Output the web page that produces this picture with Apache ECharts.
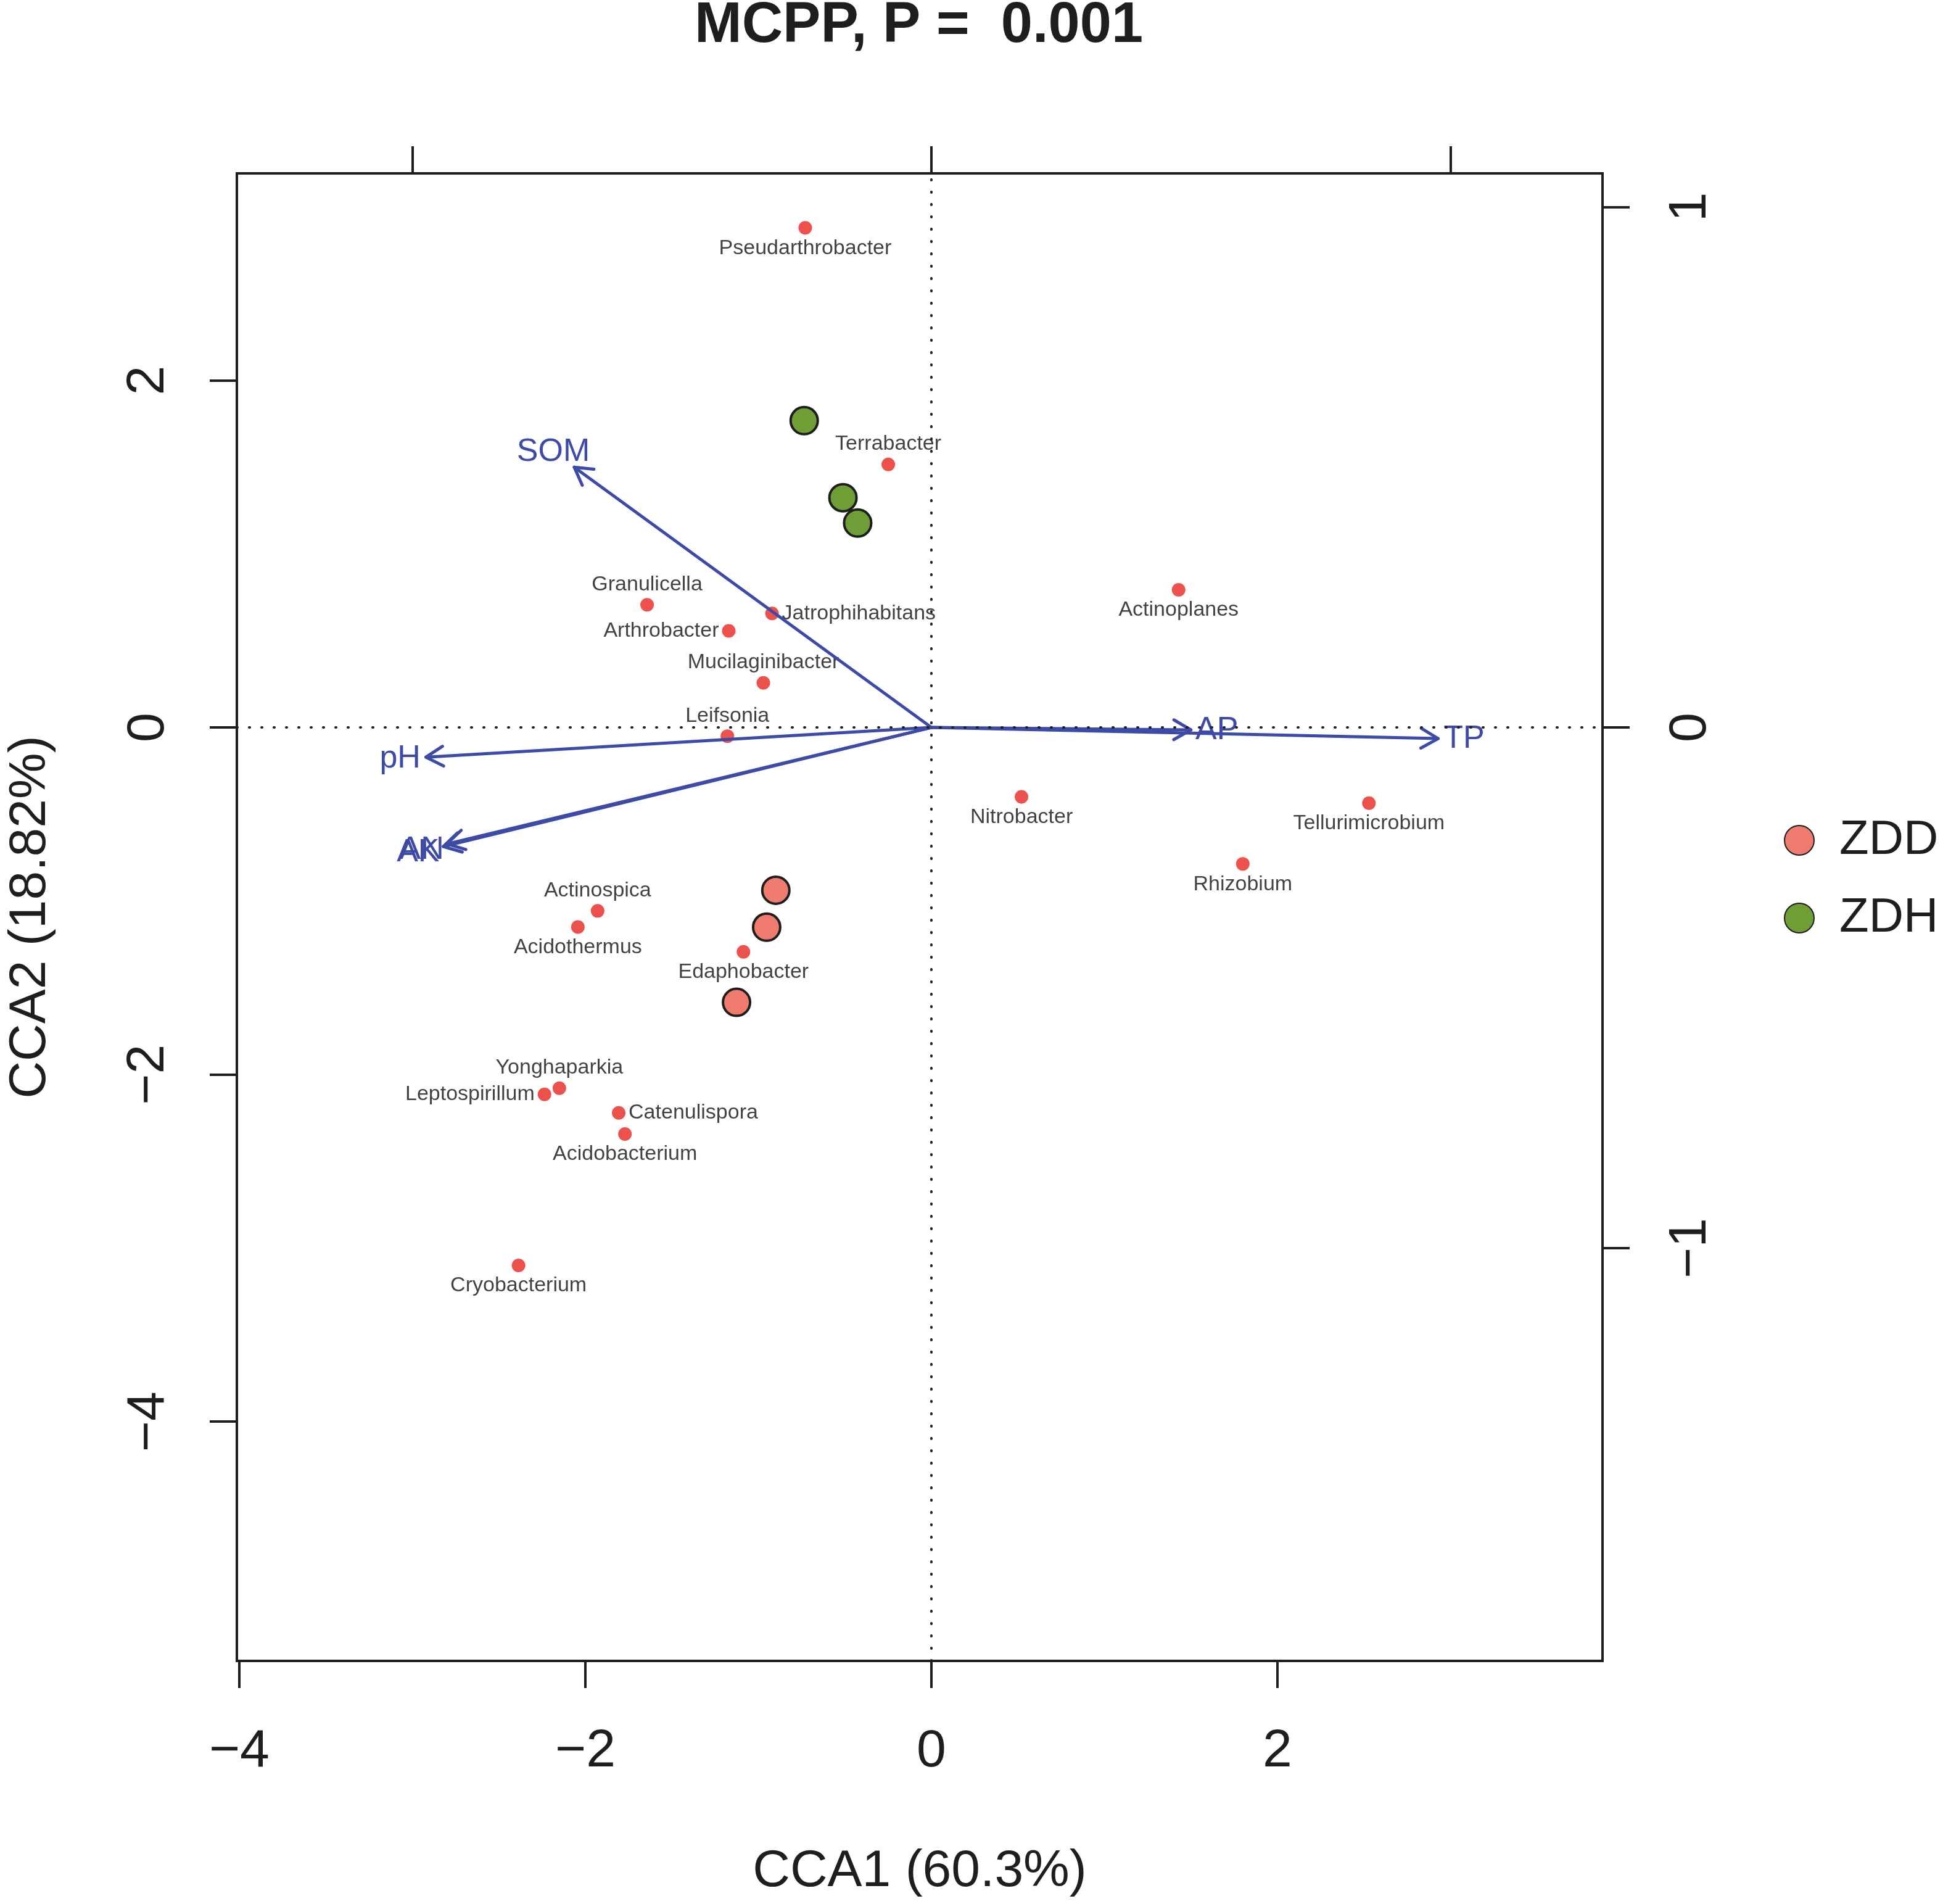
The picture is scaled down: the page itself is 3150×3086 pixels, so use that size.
<!DOCTYPE html>
<html>
<head>
<meta charset="utf-8">
<script src="https://cdn.jsdelivr.net/npm/echarts@6/dist/echarts.min.js"></script>
<style>
  html, body { margin: 0; padding: 0; background: #fff; }
  #chart { width: 3150px; height: 3086px; }
</style>
</head>
<body>
<div id="chart"></div>
<script>
// species scores (CCA1, CCA2)
var speciesNames = ['Pseudarthrobacter', 'Terrabacter', 'Granulicella', 'Arthrobacter', 'Jatrophihabitans',
  'Mucilaginibacter', 'Leifsonia', 'Actinoplanes', 'Nitrobacter', 'Tellurimicrobium', 'Rhizobium',
  'Actinospica', 'Acidothermus', 'Edaphobacter', 'Yonghaparkia', 'Leptospirillum', 'Catenulispora',
  'Acidobacterium', 'Cryobacterium'];
var speciesX = [-0.729, -0.249, -1.643, -1.171, -0.921, -0.971, -1.179, 1.429, 0.521, 2.529, 1.800,
  -1.929, -2.043, -1.086, -2.150, -2.236, -1.807, -1.771, -2.386];
var speciesY = [2.879, 1.516, 0.707, 0.557, 0.657, 0.257, -0.050, 0.793, -0.400, -0.436, -0.786,
  -1.057, -1.150, -1.293, -2.079, -2.114, -2.221, -2.343, -3.100];

// site scores
var zddX = [-0.899, -0.952, -1.126];
var zddY = [-0.938, -1.151, -1.584];
var zdhX = [-0.735, -0.511, -0.426];
var zdhY = [1.768, 1.324, 1.178];

// environmental arrows
var envNames = ['SOM', 'pH', 'AK', 'AN', 'AP', 'TP'];
var envX = [-2.064, -2.921, -2.821, -2.800, 1.500, 2.929];
var envY = [1.500, -0.171, -0.686, -0.671, -0.014, -0.064];

// axis ticks
var xTicks = [-4, -2, 0, 2];
var yTicks = [-4, -2, 0, 2];
var secTicks = [-1, 0, 1];

// where each species label sits relative to its dot
var labelSide = {
  Pseudarthrobacter: 'bottom', Terrabacter: 'top', Granulicella: 'top', Arthrobacter: 'left',
  Jatrophihabitans: 'right', Mucilaginibacter: 'top', Leifsonia: 'top', Actinoplanes: 'bottom',
  Nitrobacter: 'bottom', Tellurimicrobium: 'bottom', Rhizobium: 'bottom', Actinospica: 'top',
  Acidothermus: 'bottom', Edaphobacter: 'bottom', Yonghaparkia: 'top', Leptospirillum: 'left',
  Catenulispora: 'right', Acidobacterium: 'bottom', Cryobacterium: 'bottom'
};

var xMin = -4.014, xMax = 3.879, yMin = -5.379, yMax = 3.193;
var FONT = "'Liberation Sans', Arial, sans-serif";
var NARROW = "'Liberation Sans Narrow', 'Liberation Sans', Arial, sans-serif";
var BLUE = '#3E4BA6';
var INK = '#1e1e1e';

function minus(v) { return String(v).replace('-', '\u2212'); }

function tickStyle() {
  return { show: true, inside: false, length: 44, lineStyle: { color: INK, width: 4 } };
}

var chart = echarts.init(document.getElementById('chart'));

var speciesData = speciesNames.map(function (n, i) {
  return { name: n, value: [speciesX[i], speciesY[i]], label: { position: labelSide[n] } };
});

var envData = envNames.map(function (n, i) { return [envX[i], envY[i], n]; });

function renderArrow(params, api) {
  var p0 = api.coord([0, 0]);
  var p1 = api.coord([api.value(0), api.value(1)]);
  var dx = p1[0] - p0[0], dy = p1[1] - p0[1];
  var len = Math.sqrt(dx * dx + dy * dy);
  var ux = dx / len, uy = dy / len;
  var head = 32, ang = Math.PI / 6;
  var a = Math.atan2(dy, dx);
  var h1 = [p1[0] - head * Math.cos(a - ang), p1[1] - head * Math.sin(a - ang)];
  var h2 = [p1[0] - head * Math.cos(a + ang), p1[1] - head * Math.sin(a + ang)];
  var ls = { stroke: BLUE, lineWidth: 5, fill: null, lineCap: 'round', lineJoin: 'round' };
  return {
    type: 'group',
    children: [
      { type: 'line', shape: { x1: p0[0], y1: p0[1], x2: p1[0], y2: p1[1] }, style: ls },
      { type: 'polyline', shape: { points: [h1, p1, h2] }, style: ls },
      {
        type: 'text',
        x: p1[0] + 42 * ux, y: p1[1] + 42 * uy,
        style: {
          text: api.value(2), fill: BLUE, font: '52px ' + FONT,
          align: 'center', verticalAlign: 'middle'
        }
      }
    ]
  };
}

var option = {
  backgroundColor: '#ffffff',
  animation: false,
  title: {
    text: 'MCPP, P =  0.001',
    left: 1121, top: -8,
    textStyle: { fontFamily: FONT, fontSize: 92, fontWeight: 'bold', color: INK }
  },
  legend: {
    data: ['ZDD', 'ZDH'],
    orient: 'vertical',
    left: 2887, top: 1318,
    icon: 'circle',
    itemWidth: 48, itemHeight: 48, itemGap: 48,
    textStyle: { fontFamily: FONT, fontSize: 78, color: INK, padding: [0, 0, 0, 36] }
  },
  grid: {
    left: 378, right: 552, top: 281, bottom: 394,
    show: true, borderColor: INK, borderWidth: 4, backgroundColor: 'transparent'
  },
  xAxis: [
    {
      type: 'value', position: 'bottom', min: xMin, max: xMax,
      axisLine: { show: false, onZero: false }, splitLine: { show: false },
      axisTick: Object.assign(tickStyle(), { customValues: xTicks }),
      axisLabel: { customValues: xTicks, formatter: minus, fontFamily: NARROW, fontSize: 86, color: INK, margin: 104 },
      name: 'CCA1 (60.3%)', nameLocation: 'middle', nameGap: 300,
      nameTextStyle: { fontFamily: FONT, fontSize: 84, color: INK }
    },
    {
      type: 'value', position: 'top', min: xMin / 3, max: xMax / 3,
      axisLine: { show: false, onZero: false }, splitLine: { show: false },
      axisTick: Object.assign(tickStyle(), { customValues: secTicks }),
      axisLabel: { show: false, customValues: secTicks }
    }
  ],
  yAxis: [
    {
      type: 'value', position: 'left', min: yMin, max: yMax,
      axisLine: { show: false, onZero: false }, splitLine: { show: false },
      axisTick: Object.assign(tickStyle(), { customValues: yTicks }),
      axisLabel: { customValues: yTicks, formatter: minus, rotate: 90, fontFamily: NARROW, fontSize: 86, color: INK, margin: 100 },
      name: 'CCA2 (18.82%)', nameLocation: 'middle', nameGap: 292,
      nameTextStyle: { fontFamily: FONT, fontSize: 84, color: INK }
    },
    {
      type: 'value', position: 'right', min: yMin / 3, max: yMax / 3,
      axisLine: { show: false, onZero: false }, splitLine: { show: false },
      axisTick: Object.assign(tickStyle(), { customValues: secTicks }),
      axisLabel: { customValues: secTicks, formatter: minus, rotate: 90, fontFamily: NARROW, fontSize: 86, color: INK, margin: 100 }
    }
  ],
  series: [
    {
      name: 'species', type: 'scatter', symbolSize: 22, z: 2,
      itemStyle: { color: '#E8261F' },
      label: {
        show: true, formatter: '{b}', distance: 5,
        fontFamily: FONT, fontSize: 34, color: '#111'
      },
      data: speciesData,
      markLine: {
        silent: true, symbol: 'none', label: { show: false },
        lineStyle: { color: INK, width: 4, type: [1, 19], cap: 'round' },
        data: [{ xAxis: 0 }, { yAxis: 0 }]
      }
    },
    {
      name: 'ZDD', type: 'scatter', symbolSize: 44, z: 3,
      itemStyle: { color: '#EE7B6E', borderColor: INK, borderWidth: 4, opacity: 1 },
      data: zddX.map(function (x, i) { return [x, zddY[i]]; })
    },
    {
      name: 'ZDH', type: 'scatter', symbolSize: 44, z: 3,
      itemStyle: { color: '#6E9E35', borderColor: INK, borderWidth: 4, opacity: 1 },
      data: zdhX.map(function (x, i) { return [x, zdhY[i]]; })
    },
    {
      name: 'env', type: 'custom', z: 4,
      renderItem: renderArrow,
      data: envData
    }
  ]
};

chart.setOption(option);
</script>
</body>
</html>
